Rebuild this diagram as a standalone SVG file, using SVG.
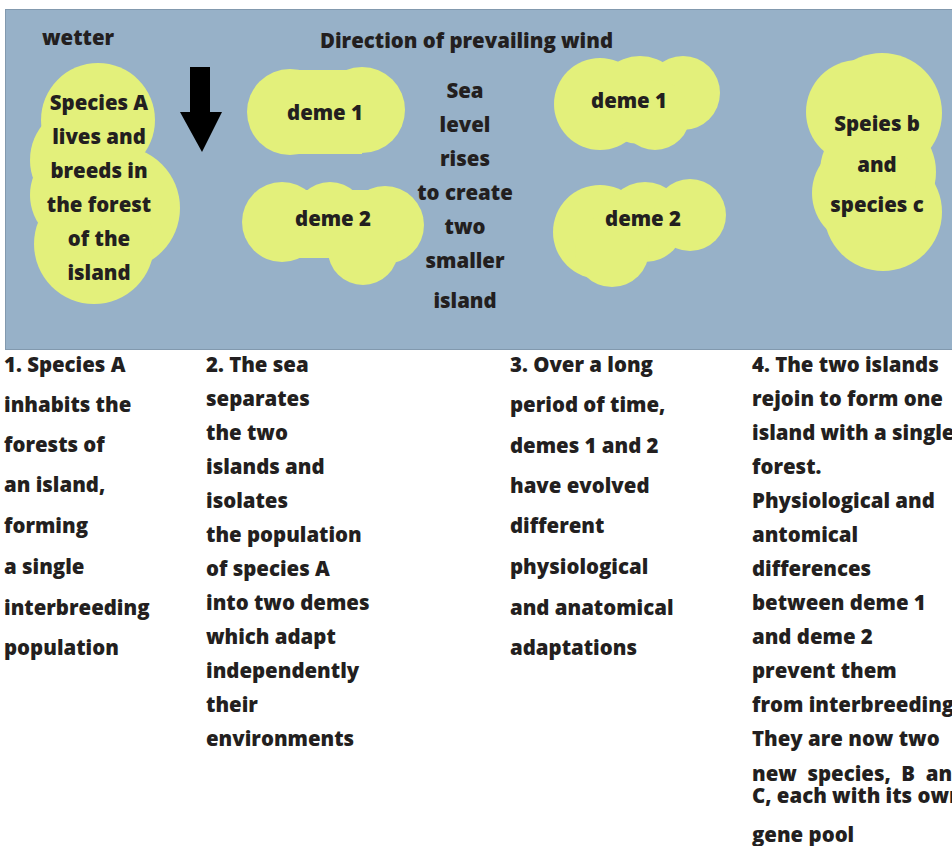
<svg xmlns="http://www.w3.org/2000/svg" width="952" height="846" viewBox="0 0 952 846">
<style>
text{font-family:"Open Sans","Noto Sans","Liberation Sans",sans-serif;font-weight:800;font-size:20.4px;fill:#231F20}
.c{text-anchor:middle}
.blob{fill:#E3F07B}
</style>
<rect x="0" y="0" width="952" height="846" fill="#ffffff"/>
<rect id="sea" x="5.5" y="9.5" width="950" height="340" fill="#97B1C8" stroke="#8299AE" stroke-width="1"/>
<text x="42" y="45">wetter</text>
<text x="320" y="48" font-size="21.4">Direction of prevailing wind</text>
<g id="wind-arrow">
<path d="M190,67 L210,67 L210,112 L222,112 L202,152 L180,112 L190,112 Z" fill="#000"/>
</g>
<g id="species-a-island">
<g class="blob">
<circle cx="98" cy="120" r="57"/>
<circle cx="86" cy="160" r="56"/>
<circle cx="118" cy="208" r="62"/>
<circle cx="94" cy="244" r="60"/>
<circle cx="82" cy="195" r="52"/>
</g>
<text class="c" x="99" y="110">Species A</text>
<text class="c" x="99" y="144">lives and</text>
<text class="c" x="99" y="178">breeds in</text>
<text class="c" x="99" y="212">the forest</text>
<text class="c" x="99" y="246">of the</text>
<text class="c" x="99" y="280">island</text>
</g>
<g id="deme1-stage2">
<g class="blob">
<circle cx="290" cy="112" r="43"/>
<circle cx="362" cy="110" r="43"/>
<rect x="290" y="70" width="72" height="84"/>
</g>
<text class="c" x="325" y="120">deme 1</text>
</g>
<g id="deme2-stage2">
<g class="blob">
<circle cx="282" cy="222" r="40"/>
<circle cx="330" cy="218" r="36"/>
<circle cx="385" cy="225" r="39"/>
<circle cx="363" cy="250" r="35"/>
<rect x="282" y="190" width="103" height="68"/>
</g>
<text class="c" x="333" y="226">deme 2</text>
</g>
<g id="sea-level-label">
<text class="c" x="465" y="98">Sea</text>
<text class="c" x="465" y="132">level</text>
<text class="c" x="465" y="166">rises</text>
<text class="c" x="465" y="200">to create</text>
<text class="c" x="465" y="234">two</text>
<text class="c" x="465" y="268">smaller</text>
<text class="c" x="465" y="308">island</text>
</g>
<g id="deme1-stage3">
<g class="blob">
<circle cx="600" cy="104" r="46"/>
<circle cx="640" cy="100" r="44"/>
<circle cx="683" cy="93" r="37"/>
<circle cx="655" cy="115" r="35"/>
</g>
<text class="c" x="629" y="108">deme 1</text>
</g>
<g id="deme2-stage3">
<g class="blob">
<circle cx="600" cy="232" r="47"/>
<circle cx="645" cy="222" r="40"/>
<circle cx="690" cy="215" r="36"/>
<circle cx="612" cy="250" r="37"/>
</g>
<text class="c" x="643" y="226">deme 2</text>
</g>
<g id="species-bc-island">
<g class="blob">
<circle cx="882" cy="113" r="60"/>
<circle cx="858" cy="112" r="52"/>
<circle cx="878" cy="172" r="58"/>
<circle cx="883" cy="212" r="59"/>
<circle cx="864" cy="193" r="52"/>
</g>
<text class="c" x="877" y="131">Speies b</text>
<text class="c" x="877" y="172">and</text>
<text class="c" x="877" y="212">species c</text>
</g>
<g id="step1">
<text x="4" y="372">1. Species A</text>
<text x="4" y="412">inhabits the</text>
<text x="4" y="452">forests of</text>
<text x="4" y="492">an island,</text>
<text x="4" y="533">forming</text>
<text x="4" y="574">a single</text>
<text x="4" y="615">interbreeding</text>
<text x="4" y="655">population</text>
</g>
<g id="step2">
<text x="206" y="372">2. The sea</text>
<text x="206" y="406">separates</text>
<text x="206" y="440">the two</text>
<text x="206" y="474">islands and</text>
<text x="206" y="508">isolates</text>
<text x="206" y="542">the population</text>
<text x="206" y="576">of species A</text>
<text x="206" y="610">into two demes</text>
<text x="206" y="644">which adapt</text>
<text x="206" y="678">independently</text>
<text x="206" y="712">their</text>
<text x="206" y="746">environments</text>
</g>
<g id="step3">
<text x="510" y="372">3. Over a long</text>
<text x="510" y="412">period of time,</text>
<text x="510" y="453">demes 1 and 2</text>
<text x="510" y="493">have evolved</text>
<text x="510" y="533">different</text>
<text x="510" y="574">physiological</text>
<text x="510" y="615">and anatomical</text>
<text x="510" y="655">adaptations</text>
</g>
<g id="step4">
<text x="752" y="372">4. The two islands</text>
<text x="752" y="406">rejoin to form one</text>
<text x="752" y="440">island with a single</text>
<text x="752" y="474">forest.</text>
<text x="752" y="508">Physiological and</text>
<text x="752" y="542">antomical</text>
<text x="752" y="576">differences</text>
<text x="752" y="610">between deme 1</text>
<text x="752" y="644">and deme 2</text>
<text x="752" y="678">prevent them</text>
<text x="752" y="712">from interbreeding</text>
<text x="752" y="746">They are now two</text>
<text x="752" y="781" xml:space="preserve">new  species,  B  and</text>
<text x="752" y="803">C, each with its own</text>
<text x="752" y="842">gene pool</text>
</g>
</svg>
